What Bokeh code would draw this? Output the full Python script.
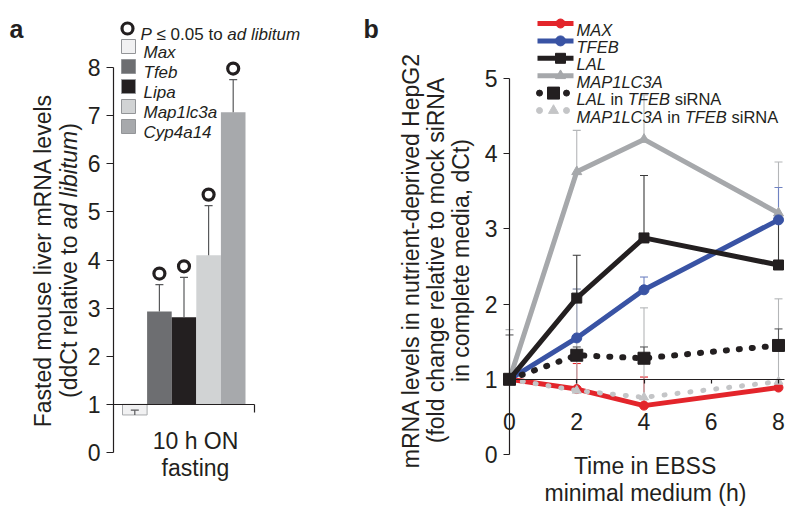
import math
from bokeh.plotting import figure
from bokeh.layouts import row
from bokeh.models import FixedTicker, Range1d, LinearAxis
from bokeh.core.properties import value
from bokeh.embed import file_html
from bokeh.resources import INLINE

NAN = float("nan")

# ---------------- Panel a data ----------------
genes_a = ["Max", "Tfeb", "Lipa", "Map1lc3a", "Cyp4a14"]
ddct_a = [0.78, 2.93, 2.81, 4.10, 7.07]
err_hi_a = [0.88, 3.49, 3.64, 5.13, 7.75]
signif_a = [False, True, True, True, True]
colors_a = ["#f1f1f2", "#6d6e71", "#231f20", "#d1d3d4", "#a7a9ac"]
yticks_a = [0, 1, 2, 3, 4, 5, 6, 7, 8]
group_a = ["10 h ON", "fasting"]

# ---------------- Panel b data ----------------
time_b = [0, 2, 4, 8]
xticks_b = [0, 2, 4, 6, 8]
yticks_b = [0, 1, 2, 3, 4, 5]
max_b = [1.0, 0.87, 0.65, 0.89]
max_err_b = [NAN, 1.21, 1.03, NAN]
tfeb_b = [1.0, 1.55, 2.19, 3.12]
tfeb_err_b = [NAN, 2.20, 2.36, 3.55]
lal_b = [1.0, 2.08, 2.88, 2.52]
lal_err_b = [NAN, 2.65, 3.71, 3.15]
map_b = [1.0, 3.76, 4.19, 3.21]
map_err_b = [NAN, 4.31, 4.78, 3.89]
lalsi_b = [1.0, 1.32, 1.28, 1.45]
lalsi_err_b = [1.59, 1.43, 1.43, 1.67]
mapsi_b = [1.0, 0.85, 0.76, 0.97]
mapsi_err_b = [1.66, 2.20, 1.95, 2.07]

FONT = "Liberation Sans"
INK = "#231f20"
BIG = 23
RED, BLUE, BLACK, GREY, LGREY = "#e3252b", "#3953a4", "#231f20", "#a6a8ab", "#c4c5c7"

# Arial / Liberation Sans advance widths (1/1000 em)
AW = {" ": 278, "(": 333, ")": 333, ",": 278, "-": 333, ".": 278, "≤": 549}
for c in "0123456789":
    AW[c] = 556
AW.update(dict(zip("ABCDEFGHIJKLMNOPQRSTUVWXYZ",
                   [667, 667, 722, 722, 667, 611, 778, 722, 278, 500, 667, 556, 833,
                    722, 778, 667, 778, 722, 667, 611, 722, 667, 944, 667, 667, 611])))
AW.update(dict(zip("abcdefghijklmnopqrstuvwxyz",
                   [556, 556, 500, 556, 556, 278, 556, 556, 222, 222, 500, 222, 833,
                    556, 556, 556, 556, 333, 500, 278, 556, 500, 722, 500, 500, 500])))


def tw(s, size):
    return sum(AW.get(c, 556) for c in s) * size / 1000.0


def runs(p, parts, sx0, sy0, size, tx, ty, angle=0.0, align="left", color=INK):
    total = sum(tw(t, size) for t, _ in parts)
    pos = -total / 2 if align == "center" else 0.0
    for t, style in parts:
        lead = len(t) - len(t.lstrip(" "))
        start = pos + tw(" " * lead, size)
        core = t.strip(" ")
        if angle == 0:
            sx, sy = sx0 + start, sy0
        else:
            sx, sy = sx0, sy0 - start
        if core:
            p.text(x=[tx(sx)], y=[ty(sy)], text=[core], angle=angle, text_align="left",
                   text_baseline="alphabetic", text_font=value(FONT),
                   text_font_size=f"{size}px", text_font_style=style, text_color=color)
        pos += tw(t, size)


OFF = 0
H = 508
W_A, W_B = 360, 435

# ================= Panel a =================
AX_A = 113.0      # screen x of y axis
Y0_A, Y8_A = 452.0, 67.0
UA = 24.6         # px per bar
PYA = (Y0_A - Y8_A) / 8


def ax_(sx):
    return (sx - AX_A) / UA


def ay_(sy):
    return (Y0_A - sy) / PYA


pa = figure(width=W_A, height=H, output_backend="svg", toolbar_location=None,
            x_range=Range1d(ax_(OFF), ax_(OFF + W_A)),
            y_range=Range1d(ay_(OFF + H), ay_(OFF)),
            x_axis_type=None, y_axis_type=None, min_border=0)
pa.outline_line_color = None
pa.xgrid.visible = False
pa.ygrid.visible = False

X_END_A = ax_(254)
yax = LinearAxis(fixed_location=0, bounds=(0, 8), ticker=FixedTicker(ticks=yticks_a))
xax = LinearAxis(fixed_location=1, bounds=(0, X_END_A), ticker=FixedTicker(ticks=[X_END_A]),
                 major_label_overrides={X_END_A: ""})
for ax in (yax, xax):
    ax.axis_line_color = INK
    ax.axis_line_width = 1.2
    ax.major_tick_line_color = INK
    ax.major_tick_line_width = 1.2
    ax.minor_tick_line_color = None
    ax.major_tick_in = 0
    ax.major_label_text_font = FONT
    ax.major_label_text_font_size = f"{BIG}px"
    ax.major_label_text_color = INK
yax.major_tick_out = 7
yax.major_label_standoff = 6
xax.major_tick_out = 8
pa.add_layout(yax, "left")
pa.add_layout(xax, "below")

first = ax_(122) + 0.5
bx = [first + i for i in range(len(genes_a))]
pa.vbar(x=bx, width=1.0, bottom=1, top=ddct_a, fill_color=colors_a,
        line_color=["#a7a9ac", None, None, None, None], line_width=1)

cap_a = 4.0 / UA
pa.segment(x0=bx, y0=ddct_a, x1=bx, y1=err_hi_a, line_color="#58595b", line_width=1.2)
pa.segment(x0=[x - cap_a for x in bx], y0=err_hi_a, x1=[x + cap_a for x in bx], y1=err_hi_a,
           line_color="#58595b", line_width=1.2)
sx_sig = [x for x, s in zip(bx, signif_a) if s]
sy_sig = [e + 11.0 / PYA for e, s in zip(err_hi_a, signif_a) if s]
pa.scatter(x=sx_sig, y=sy_sig, marker="circle", size=11, fill_color="white",
           line_color=BLACK, line_width=3.2)

# legend a
pa.scatter(x=[ax_(127)], y=[ay_(28)], marker="circle", size=11, fill_color="white",
           line_color=BLACK, line_width=3.2)
runs(pa, [("P", "italic"), (" ≤ 0.05 to ", "normal"), ("ad libitum", "italic")],
     140, 34, 17, ax_, ay_)
for i, (g, c) in enumerate(zip(genes_a, colors_a)):
    yy = 46 + 20 * i
    pa.scatter(x=[ax_(128)], y=[ay_(yy)], marker="square", size=14, fill_color=c,
               line_color="#939598", line_width=1)
    runs(pa, [(g, "italic")], 143, yy + 6, 17, ax_, ay_)

# axis texts a
runs(pa, [("Fasted mouse liver mRNA levels", "normal")], 42, 260, BIG, ax_, ay_,
     angle=math.pi / 2, align="center")
runs(pa, [("(ddCt relative to ", "normal"), ("ad libitum", "italic"), (")", "normal")],
     68, 260, BIG, ax_, ay_, angle=math.pi / 2, align="center")
runs(pa, [(group_a[0], "normal")], 195, 440, BIG, ax_, ay_, align="center")
runs(pa, [(group_a[1], "normal")], 195, 467, BIG, ax_, ay_, align="center")
runs(pa, [("a", "bold")], 9, 28, 25, ax_, ay_)

# ================= Panel b =================
AX_B = 509.0
PXB = (778.0 - 509.0) / 8
Y0_B = 454.0
PYB = (454.0 - 78.0) / 5
XB0 = OFF + W_A


def bx_(sx):
    return (sx - AX_B) / PXB


def by_(sy):
    return (Y0_B - sy) / PYB


pb = figure(width=W_B, height=H, output_backend="svg", toolbar_location=None,
            x_range=Range1d(bx_(XB0), bx_(XB0 + W_B)),
            y_range=Range1d(by_(OFF + H), by_(OFF)),
            x_axis_type=None, y_axis_type=None, min_border=0)
pb.outline_line_color = None
pb.xgrid.visible = False
pb.ygrid.visible = False

ybx = LinearAxis(fixed_location=0, bounds=(0, 5), ticker=FixedTicker(ticks=yticks_b))
xbx = LinearAxis(fixed_location=1, bounds=(0, bx_(784)), ticker=FixedTicker(ticks=xticks_b))
for ax in (ybx, xbx):
    ax.axis_line_color = INK
    ax.axis_line_width = 1.2
    ax.major_tick_line_color = INK
    ax.major_tick_line_width = 1.2
    ax.minor_tick_line_color = None
    ax.major_tick_in = 0
    ax.major_label_text_font = FONT
    ax.major_label_text_font_size = f"{BIG}px"
    ax.major_label_text_color = INK
ybx.major_tick_out = 6
ybx.major_label_standoff = 6
xbx.major_tick_out = 4
xbx.major_label_standoff = 30
pb.add_layout(ybx, "left")
pb.add_layout(xbx, "below")

cap_b = 4.0 / PXB
series = [
    (map_b, map_err_b, GREY, "#b4b6b8", "triangle", 10, None, 5),
    (max_b, max_err_b, RED, RED, "circle", 9, None, 5),
    (tfeb_b, tfeb_err_b, BLUE, "#6f82c2", "circle", 10, None, 5),
    (mapsi_b, mapsi_err_b, LGREY, "#b4b6b8", "triangle", 9, "1 12", 5),
    (lal_b, lal_err_b, BLACK, "#3a3a3a", "square", 10, None, 5),
    (lalsi_b, lalsi_err_b, BLACK, "#58595b", "square", 12, "1 12", 6),
]
for ys, es, col, ecol, mk, ms, dash, lw in series:
    xs = [t for t, e in zip(time_b, es) if not math.isnan(e)]
    y0 = [y for y, e in zip(ys, es) if not math.isnan(e)]
    y1 = [e for e in es if not math.isnan(e)]
    pb.segment(x0=xs, y0=y0, x1=xs, y1=y1, line_color=ecol, line_width=1.1)
    pb.segment(x0=[x - cap_b for x in xs], y0=y1, x1=[x + cap_b for x in xs], y1=y1,
               line_color=ecol, line_width=1.1)
for ys, es, col, ecol, mk, ms, dash, lw in series:
    if dash:
        pb.line(x=time_b, y=ys, line_color=col, line_width=lw, line_dash=dash,
                line_cap="round", line_join="round")
    else:
        pb.line(x=time_b, y=ys, line_color=col, line_width=lw, line_join="round")
    pb.scatter(x=time_b, y=ys, marker=mk, size=ms, fill_color=col, line_color=col)

# legend b
labels_b = [
    [("MAX", "italic")],
    [("TFEB", "italic")],
    [("LAL", "italic")],
    [("MAP1LC3A", "italic")],
    [("LAL", "italic"), (" in ", "normal"), ("TFEB", "italic"), (" siRNA", "normal")],
    [("MAP1LC3A", "italic"), (" in ", "normal"), ("TFEB", "italic"), (" siRNA", "normal")],
]
leg_style = [(RED, "circle", 9), (BLUE, "circle", 10), (BLACK, "square", 10),
             (GREY, "triangle", 10), (BLACK, "square", 12), (LGREY, "triangle", 10)]
for i, (lab, (col, mk, ms)) in enumerate(zip(labels_b, leg_style)):
    yy = 23 + 17.4 * i
    if i < 4:
        pb.line(x=[bx_(537), bx_(573)], y=[by_(yy), by_(yy)], line_color=col, line_width=5)
        pb.scatter(x=[bx_(560)], y=[by_(yy)], marker=mk, size=ms, fill_color=col, line_color=col)
    else:
        pb.scatter(x=[bx_(539), bx_(566)], y=[by_(yy), by_(yy)], marker="circle", size=6,
                   fill_color=col, line_color=col)
        pb.scatter(x=[bx_(553)], y=[by_(yy)], marker=mk, size=ms, fill_color=col, line_color=col)
    runs(pb, lab, 576, yy + 6, 16.5, bx_, by_)

runs(pb, [("mRNA levels in nutrient-deprived HepG2", "normal")], 410, 260, BIG, bx_, by_,
     angle=math.pi / 2, align="center")
runs(pb, [("(fold change relative to mock siRNA", "normal")], 435, 260, BIG, bx_, by_,
     angle=math.pi / 2, align="center")
runs(pb, [("in complete media, dCt)", "normal")], 460, 260, BIG, bx_, by_,
     angle=math.pi / 2, align="center")
runs(pb, [("Time in EBSS", "normal")], 645, 465, BIG, bx_, by_, align="center")
runs(pb, [("minimal medium (h)", "normal")], 645, 492, BIG, bx_, by_, align="center")
runs(pb, [("b", "bold")], 363, 28, 25, bx_, by_)

layout = row(pa, pb, spacing=0)
open("out.html", "w").write(file_html(layout, INLINE))
